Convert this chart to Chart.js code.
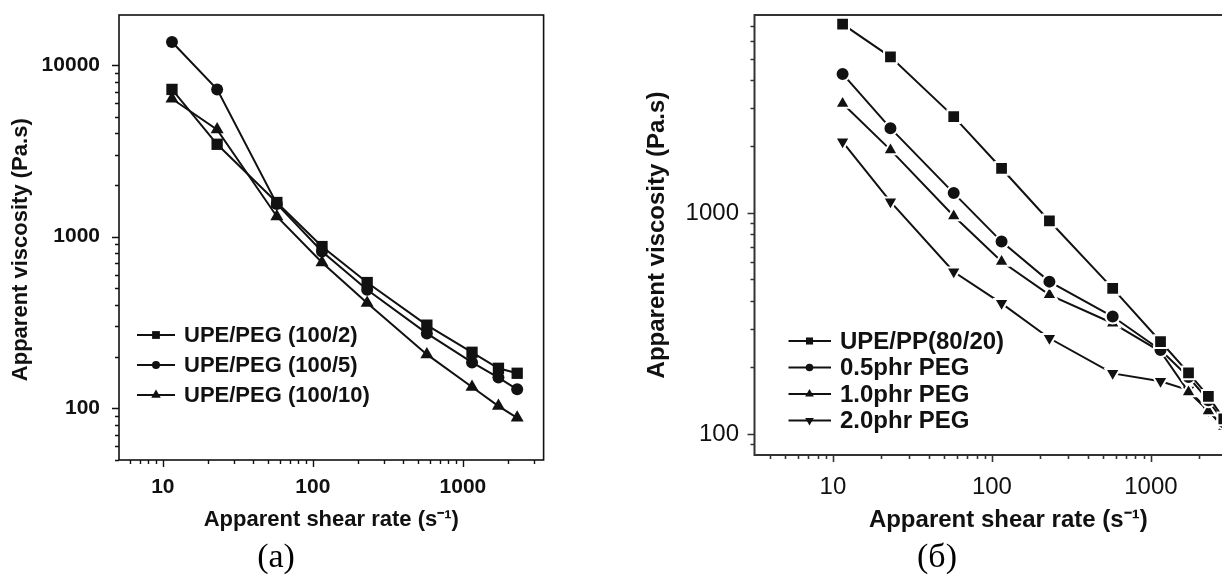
<!DOCTYPE html>
<html><head><meta charset="utf-8">
<script src="https://cdn.jsdelivr.net/npm/chart.js@4.4.1/dist/chart.umd.min.js"></script>
<style>
html,body{margin:0;padding:0;background:#fff;width:1222px;height:576px;overflow:hidden;position:relative;}
canvas{position:absolute;top:0;}
#cA{left:0;} #cB{left:600px;}
.cap{position:absolute;font-family:'Liberation Serif','Times New Roman',serif;font-size:34px;line-height:34px;color:#000;transform:translateX(-50%);top:539px;white-space:nowrap;}
</style></head><body>
<canvas id="cA" width="600" height="545"></canvas>
<canvas id="cB" width="700" height="545"></canvas>
<div class="cap" style="left:276px">(a)</div>
<div class="cap" style="left:937px">(б)</div>
<script>
// ---- Data: panel (a) ----
const shearRateA = [11.5, 23, 57.5, 115, 230, 575, 1150, 1725, 2300];
const peg2  = [7200, 3450, 1580, 875, 540, 305, 212, 171, 160];
const peg5  = [13600, 7200, 1550, 820, 490, 273, 185, 151, 129];
const peg10 = [6350, 4200, 1310, 706, 410, 206, 133, 103, 88];
const labelsA = ['UPE/PEG (100/2)', 'UPE/PEG (100/5)', 'UPE/PEG (100/10)'];

// ---- Data: panel (б) ----
const shearRateB = [11.5, 23, 57.5, 115, 230, 575, 1150, 1725, 2300, 2875];
const upePP = [7160, 5090, 2730, 1590, 920, 456, 262, 189, 148, 117];
const phr05 = [4260, 2420, 1230, 742, 489, 340, 240, 181, 142, 113];
const phr10 = [3130, 1930, 969, 603, 426, 317, 236, 155, 127, 108];
const phr20 = [2100, 1125, 542, 390, 271, 188, 173, 158, 128, 106];
const labelsB = ['UPE/PP(80/20)', '0.5phr PEG', '1.0phr PEG', '2.0phr PEG'];

const majorTicks = [10, 100, 1000, 10000];

const SANS = "'Liberation Sans', Arial, Helvetica, sans-serif";

const frameTicks = {
  id: 'frameTicks',
  afterDraw(chart, args, o) {
    const {ctx, chartArea: a, scales} = chart;
    ctx.save();
    ctx.strokeStyle = o.color;
    ctx.lineWidth = o.width;
    ctx.strokeRect(a.left, a.top, a.right - a.left, a.bottom - a.top);
    ctx.lineWidth = o.tickWidth;
    ctx.beginPath();
    for (const id of ['x', 'y']) {
      const s = scales[id];
      const e0 = Math.floor(Math.log10(s.min)), e1 = Math.ceil(Math.log10(s.max));
      for (let e = e0; e <= e1; e++) for (let m = 1; m <= 9; m++) {
        const v = m * Math.pow(10, e);
        if (v < s.min || v > s.max) continue;
        const p = Math.round(s.getPixelForValue(v)) + 0.5;
        const len = m === 1 ? o.major : o.minor;
        if (id === 'x') { ctx.moveTo(p, a.bottom); ctx.lineTo(p, a.bottom + len); }
        else { ctx.moveTo(a.left, p); ctx.lineTo(a.left - len, p); }
      }
    }
    ctx.stroke();
    ctx.restore();
  }
};

const inLegend = {
  id: 'inLegend',
  afterDraw(chart, args, o) {
    const ctx = chart.ctx;
    ctx.save();
    ctx.font = o.font;
    ctx.textBaseline = 'middle';
    ctx.textAlign = 'left';
    chart.data.datasets.forEach((ds, i) => {
      const y = o.rows[i];
      ctx.strokeStyle = '#111'; ctx.lineWidth = 2;
      ctx.beginPath(); ctx.moveTo(o.x0, y); ctx.lineTo(o.x1, y); ctx.stroke();
      ctx.fillStyle = '#111';
      Chart.helpers.drawPoint(ctx, {pointStyle: ds.pointStyle, rotation: ds.pointRotation || 0,
        radius: o.r[ds.pointStyle], borderWidth: 0}, o.xm, y);
      ctx.fillStyle = '#111';
      ctx.fillText(ds.label, o.xt, y + 1);
    });
    ctx.restore();
  }
};

function series(xs, ys, label, style, r, extra) {
  return Object.assign({
    label: label,
    data: xs.map((x, i) => ({x: x, y: ys[i]})),
    borderColor: '#111', borderWidth: 2, tension: 0,
    pointStyle: style, pointRadius: r, pointHoverRadius: r,
    pointBackgroundColor: '#111', pointBorderColor: '#111', pointBorderWidth: 0,
    fill: false, clip: false
  }, extra || {});
}

function axisTicks(s) {
  s.ticks = majorTicks.filter(v => v >= s.min && v <= s.max).map(v => ({value: v}));
}
function fitX(h) {
  return s => { s.height = h; s.paddingLeft = 0; s.paddingRight = 0; s.paddingTop = 0; s.paddingBottom = 0; };
}
function fitY(w) {
  return s => { s.width = w; s.paddingLeft = 0; s.paddingRight = 0; s.paddingTop = 0; s.paddingBottom = 0; };
}

// ---- Chart (a) ----
new Chart(document.getElementById('cA'), {
  type: 'line',
  data: {
    datasets: [
      series(shearRateA, peg2, labelsA[0], 'rect', 8),
      series(shearRateA, peg5, labelsA[1], 'circle', 6),
      series(shearRateA, peg10, labelsA[2], 'triangle', 7.5)
    ]
  },
  options: {
    responsive: false, animation: false,
    layout: {padding: {left: 0, top: 15, right: 56.4, bottom: 0}},
    plugins: {
      legend: {display: false}, tooltip: {enabled: false},
      frameTicks: {color: '#111', width: 1.6, tickWidth: 1.4, major: 7, minor: 4},
      inLegend: {font: 'bold 22px ' + SANS, x0: 137, x1: 175, xm: 156, xt: 184,
        rows: [335, 365, 395], r: {rect: 5.5, circle: 4, triangle: 5.5}}
    },
    scales: {
      x: {
        type: 'logarithmic', min: 5.1, max: 3450,
        afterFit: fitX(85),
        afterBuildTicks: axisTicks,
        grid: {display: false, drawTicks: false},
        border: {display: false},
        ticks: {autoSkip: false, maxRotation: 0, padding: 14.4, color: '#111',
          font: {family: SANS, size: 21, weight: 'bold'}, callback: v => String(v)},
        title: {display: true, text: 'Apparent shear rate (s\u207B\u00B9)', color: '#111',
          font: {family: SANS, size: 22, weight: 'bold'}, padding: {top: 0, bottom: 11.8}}
      },
      y: {
        type: 'logarithmic', min: 50, max: 19530,
        afterFit: fitY(119),
        afterBuildTicks: axisTicks,
        grid: {display: false, drawTicks: false},
        border: {display: false},
        ticks: {autoSkip: false, padding: 19, color: '#111',
          font: {family: SANS, size: 21, weight: 'bold'}, callback: v => String(v)},
        title: {display: true, text: 'Apparent viscosity (Pa.s)\u00A0\u00A0\u00A0\u00A0', color: '#111',
          font: {family: SANS, size: 22, weight: 'bold'}, padding: {top: 7.8, bottom: 0}}
      }
    }
  },
  plugins: [frameTicks, inLegend]
});

// ---- Chart (б) ----
const gap = {pointBorderColor: '#fff', pointBorderWidth: 2};
new Chart(document.getElementById('cB'), {
  type: 'line',
  data: {
    datasets: [
      series(shearRateB, upePP, labelsB[0], 'rect', 9, gap),
      series(shearRateB, phr05, labelsB[1], 'circle', 7, gap),
      series(shearRateB, phr10, labelsB[2], 'triangle', 8.5, gap),
      series(shearRateB, phr20, labelsB[3], 'triangle', 8.5, Object.assign({pointRotation: 180}, gap))
    ]
  },
  options: {
    responsive: false, animation: false,
    layout: {padding: {left: 0, top: 15, right: 38, bottom: 0}},
    plugins: {
      legend: {display: false}, tooltip: {enabled: false},
      frameTicks: {color: '#333', width: 2, tickWidth: 1.6, major: 7, minor: 4},
      inLegend: {font: 'bold 24px ' + SANS, x0: 188.5, x1: 231, xm: 209.5, xt: 240,
        rows: [341, 367.5, 394, 420.5], r: {rect: 5, circle: 3.8, triangle: 5}}
    },
    scales: {
      x: {
        type: 'logarithmic', min: 3.21, max: 5000,
        afterFit: fitX(90),
        afterBuildTicks: axisTicks,
        grid: {display: false, drawTicks: false},
        border: {display: false},
        ticks: {autoSkip: false, maxRotation: 0, padding: 17.6, color: '#111',
          font: {family: SANS, size: 24}, callback: v => String(v)},
        title: {display: true, text: 'Apparent shear rate (s\u207B\u00B9)', color: '#111',
          font: {family: SANS, size: 24, weight: 'bold'}, padding: {top: 0, bottom: 10.6}}
      },
      y: {
        type: 'logarithmic', min: 80.3, max: 7870,
        afterFit: fitY(154.5),
        afterBuildTicks: axisTicks,
        grid: {display: false, drawTicks: false},
        border: {display: false},
        ticks: {autoSkip: false, padding: 15.5, color: '#111',
          font: {family: SANS, size: 24}, callback: v => String(v)},
        title: {display: true, text: 'Apparent viscosity (Pa.s)', color: '#111',
          font: {family: SANS, size: 24, weight: 'bold'}, padding: {top: 43.1, bottom: 0}}
      }
    }
  },
  plugins: [frameTicks, inLegend]
});
</script>
</body></html>
